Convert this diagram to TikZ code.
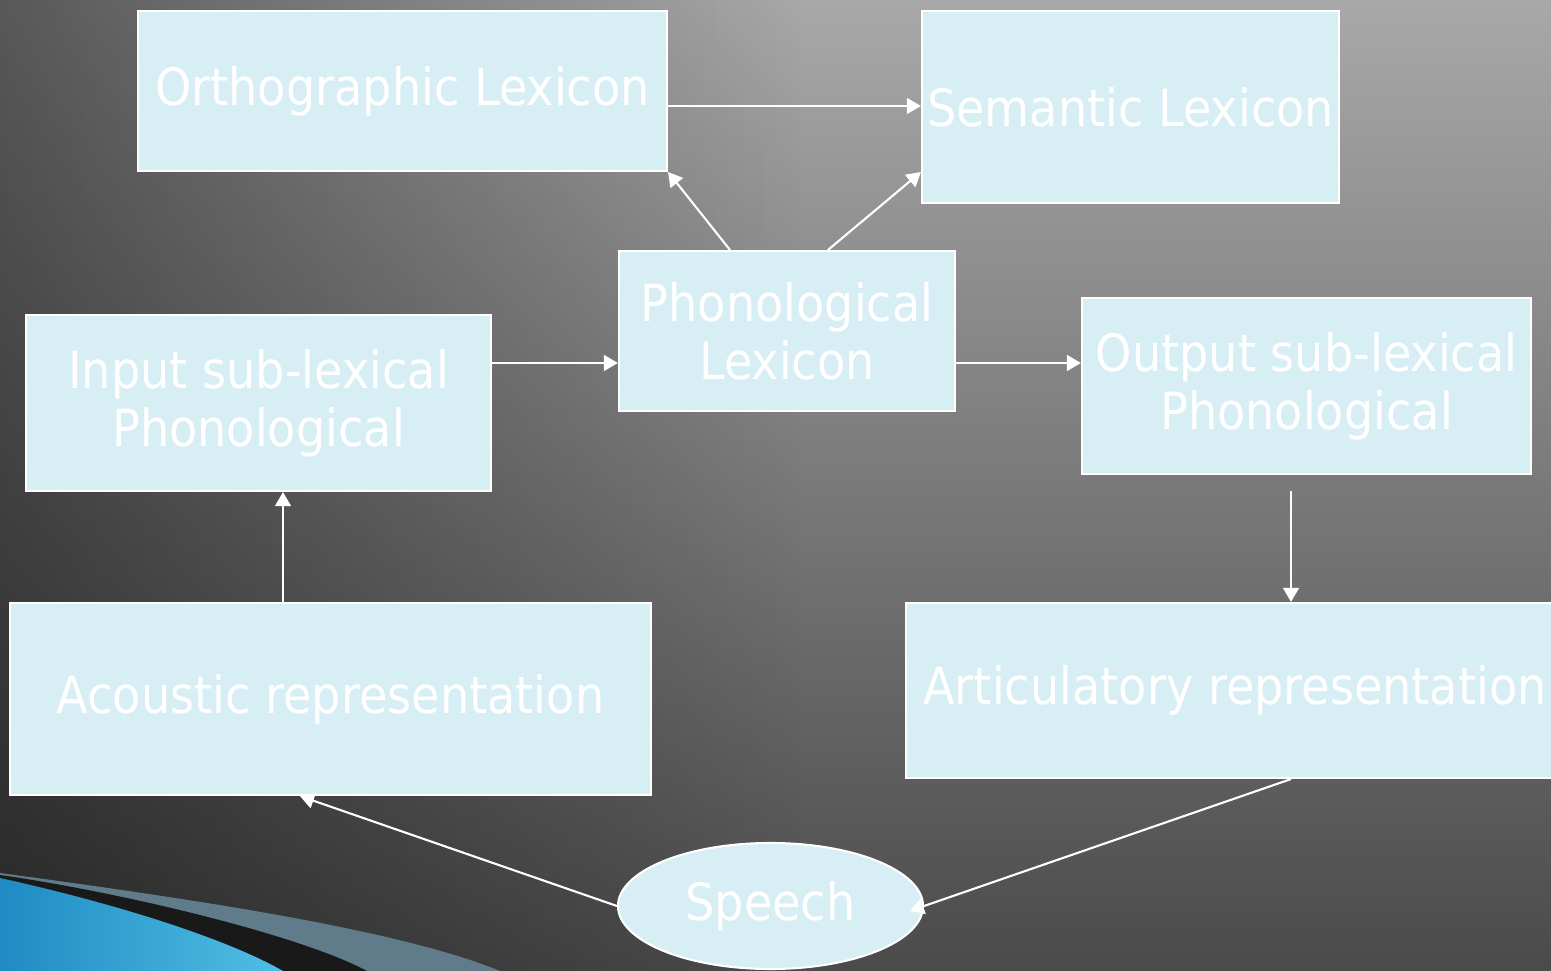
\documentclass[tikz,border=0pt]{standalone}
\usepackage{fontspec}
\setmainfont{DejaVu Sans}[FakeStretch=0.9]
\usetikzlibrary{arrows.meta,shapes.geometric,fadings}

\definecolor{boxblue}{RGB}{214,238,244}
\definecolor{bgtop}{RGB}{168,168,168}
\definecolor{bgmid}{RGB}{140,140,140}
\definecolor{bgbot}{RGB}{62,62,62}
\definecolor{swgray}{RGB}{96,124,138}
\definecolor{swblue}{RGB}{30,140,195}
\definecolor{swcyan}{RGB}{80,190,228}

\tikzfading[name=leftdark, left color=transparent!0, right color=transparent!100]

\tikzset{
  lexbox/.style={draw=white, line width=0.6pt, fill=boxblue, text=white, inner sep=0pt,
    align=center, font=\fontsize{14.6}{16.5}\selectfont},
  arr/.style={draw=white, line width=0.6pt, -{Triangle[length=4pt,width=4.5pt]}}
}

\begin{document}
\begin{tikzpicture}
\useasboundingbox (0,0) rectangle (15.51,-9.71);
\clip (0,0) rectangle (15.51,-9.71);
\shade[top color=bgtop, middle color=bgmid, bottom color=bgbot] (0,0) rectangle (15.51,-11);
\fill[black, fill opacity=0.65, path fading=leftdark] (-3,0) rectangle (8,-9.71);

\fill[swgray] (0,-8.73) .. controls (2.0,-9.0) and (4.0,-9.3) .. (5.0,-9.71) -- (0,-9.71) -- cycle;
\fill[black!90] (0,-8.75) .. controls (1.2,-8.92) and (3.0,-9.35) .. (3.67,-9.71) -- (0,-9.71) -- cycle;
\shade[left color=swblue, right color=swcyan] (0,-8.78) .. controls (1.0,-9.0) and (2.2,-9.35) .. (2.83,-9.71) -- (0,-9.71) -- cycle;

\node[lexbox, minimum width=5.29cm, minimum height=1.60cm] (ortho) at (4.025,-0.91) {Orthographic Lexicon};
\node[lexbox, minimum width=4.17cm, minimum height=1.92cm] (sem) at (11.305,-1.07) {Semantic Lexicon};
\node[lexbox, minimum width=3.36cm, minimum height=1.60cm] (phon) at (7.87,-3.31) {Phonological\\Lexicon};
\node[lexbox, minimum width=4.65cm, minimum height=1.76cm] (inp) at (2.585,-4.03) {Input sub-lexical\\Phonological};
\node[lexbox, minimum width=4.49cm, minimum height=1.76cm] (outp) at (13.065,-3.86) {Output sub-lexical\\Phonological};
\node[lexbox, minimum width=6.41cm, minimum height=1.92cm] (acou) at (3.305,-6.99) {Acoustic representation};
\node[lexbox, minimum width=6.58cm, minimum height=1.75cm] (artic) at (12.35,-6.905) {Articulatory representation};
\node[lexbox, ellipse, minimum width=3.05cm, minimum height=1.26cm] (speech) at (7.705,-9.06) {Speech};

\coordinate (c1) at (7.30,0);
\coordinate (c2) at (8.28,-1.72);
\coordinate (c3) at (0,-3.63);
\coordinate (c4) at (2.83,0);
\coordinate (c5) at (12.91,-4.91);
\coordinate (c6) at (3.00,0);
\coordinate (c7) at (0,-1.06);

\draw[arr] (c7 -| ortho.east) -- (c7 -| sem.west);
\draw[arr] (c1 |- phon.north) -- (ortho.south east);
\draw[arr] (c2 |- phon.north) -- (c2 -| sem.west);
\draw[arr] (c3 -| inp.east) -- (c3 -| phon.west);
\draw[arr] (c3 -| phon.east) -- (c3 -| outp.west);
\draw[arr] (c4 |- acou.north) -- (c4 |- inp.south);
\draw[arr] (c5) -- (c5 |- artic.north);
\draw[arr] (speech.west) -- (c6 |- acou.south);
\draw[arr, shorten >=-0.15cm] (c5 |- artic.south) -- (speech.east);

\end{tikzpicture}
\end{document}
